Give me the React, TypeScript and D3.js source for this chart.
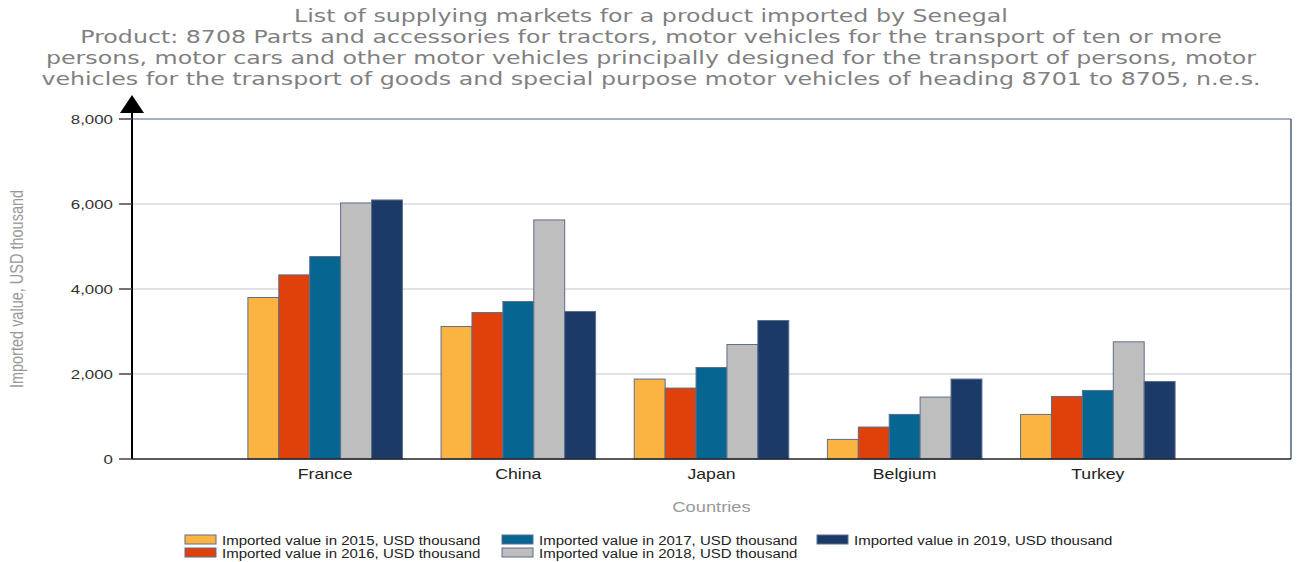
import React from "react";
import * as d3 from "d3";

const titleLines = [
  "List of supplying markets for a product imported by Senegal",
  "Product: 8708 Parts and accessories for tractors, motor vehicles for the transport of ten or more",
  "persons, motor cars and other motor vehicles principally designed for the transport of persons, motor",
  "vehicles for the transport of goods and special purpose motor vehicles of heading 8701 to 8705, n.e.s.",
];

const countries = ["France", "China", "Japan", "Belgium", "Turkey"];
const seriesNames = [
  "Imported value in 2015, USD thousand",
  "Imported value in 2016, USD thousand",
  "Imported value in 2017, USD thousand",
  "Imported value in 2018, USD thousand",
  "Imported value in 2019, USD thousand",
];
const v2015 = [3800, 3117, 1881, 461, 1049];
const v2016 = [4332, 3446, 1669, 752, 1472];
const v2017 = [4763, 3705, 2153, 1049, 1613];
const v2018 = [6025, 5625, 2694, 1457, 2757];
const v2019 = [6095, 3470, 3258, 1881, 1824];
const seriesValues = [v2015, v2016, v2017, v2018, v2019];
const colors = ["#FBB441", "#E0400A", "#066591", "#BEBEBE", "#1B3A68"];
const yTicks = [0, 2000, 4000, 6000, 8000];

const W = 1301;
const H = 562;
const L = 132;
const R = 1291;
const T = 119;
const B = 459;
const SANS = "Liberation Sans, Arial, sans-serif";

function SText(props: {
  x: number;
  y: number;
  sx: number;
  size: number;
  fill: string;
  anchor?: string;
  family?: string;
  children: React.ReactNode;
}) {
  return (
    <text
      transform={`translate(${props.x},${props.y}) scale(${props.sx},1)`}
      textAnchor={props.anchor || "start"}
      fontFamily={props.family || SANS}
      fontSize={props.size}
      fill={props.fill}
    >
      {props.children}
    </text>
  );
}

export default function App() {
  const x0 = d3.scaleBand<string>().domain(countries).range([L, R]).paddingInner(0).paddingOuter(0.5);
  const step = x0.step();
  const x1 = d3
    .scaleBand<number>()
    .domain(d3.range(seriesNames.length))
    .range([0.1 * step, 0.9 * step]);
  const y = d3.scaleLinear().domain([0, 8000]).range([B, T]);
  const fmt = d3.format(",");
  const legendPos = [
    { x: 185, y: 535 },
    { x: 185, y: 548 },
    { x: 502, y: 535 },
    { x: 502, y: 548 },
    { x: 817, y: 535 },
  ];

  return (
    <svg width={W} height={H} style={{ position: "absolute", left: 0, top: 0, background: "#fff" }}>
      {titleLines.map((t, i) => (
        <SText
          key={i}
          x={651}
          y={22 + i * 21}
          sx={1.355}
          anchor="middle"
          family="DejaVu Sans, Verdana, sans-serif"
          size={17.5}
          fill="#808080"
        >
          {t}
        </SText>
      ))}

      {yTicks
        .filter((t) => t > 0 && t < 8000)
        .map((t) => (
          <line key={t} x1={L} x2={R} y1={y(t)} y2={y(t)} stroke="#d9d9d9" strokeWidth={1.5} />
        ))}

      <line x1={L} x2={R} y1={T} y2={T} stroke="#4d6280" strokeWidth={1} />
      <line x1={R} x2={R} y1={T} y2={B} stroke="#4d6280" strokeWidth={1.5} />

      {countries.map((c, ci) => (
        <g key={c} transform={`translate(${x0(c)},0)`}>
          {seriesValues.map((vals, si) => (
            <rect
              key={si}
              x={x1(si)}
              y={y(vals[ci])}
              width={x1.bandwidth()}
              height={B - y(vals[ci])}
              fill={colors[si]}
              stroke="#5b6e8c"
              strokeWidth={1}
            />
          ))}
        </g>
      ))}

      <line x1={L} x2={R} y1={B} y2={B} stroke="#222" strokeWidth={1.5} />
      <line x1={L} x2={L} y1={B} y2={108} stroke="#000" strokeWidth={2} />
      <path d={`M${L - 12},113 L${L + 12},113 L${L},95 Z`} fill="#000" />
      {yTicks.map((t) => (
        <g key={t}>
          <line x1={L - 13} x2={L} y1={y(t)} y2={y(t)} stroke="#444" strokeWidth={1.5} />
          <SText x={L - 19} y={y(t) + 4.5} sx={1.3} anchor="end" size={13} fill="#333">
            {fmt(t)}
          </SText>
        </g>
      ))}

      {countries.map((c) => (
        <SText key={c} x={(x0(c) as number) + step / 2} y={479} sx={1.26} anchor="middle" size={14} fill="#222">
          {c}
        </SText>
      ))}

      <SText x={(L + R) / 2} y={512} sx={1.22} anchor="middle" size={15} fill="#999">
        Countries
      </SText>

      <text
        transform={`translate(23,${(T + B) / 2}) rotate(-90) scale(1,1.25)`}
        textAnchor="middle"
        fontFamily={SANS}
        fontSize={14.5}
        fill="#999"
      >
        Imported value, USD thousand
      </text>

      {seriesNames.map((s, i) => (
        <g key={s} transform={`translate(${legendPos[i].x},${legendPos[i].y})`}>
          <rect x={0} y={0} width={31} height={9} fill={colors[i]} stroke="#5b6e8c" strokeWidth={1} />
          <SText x={37} y={9.5} sx={1.25} size={12} fill="#222">
            {s}
          </SText>
        </g>
      ))}
    </svg>
  );
}
